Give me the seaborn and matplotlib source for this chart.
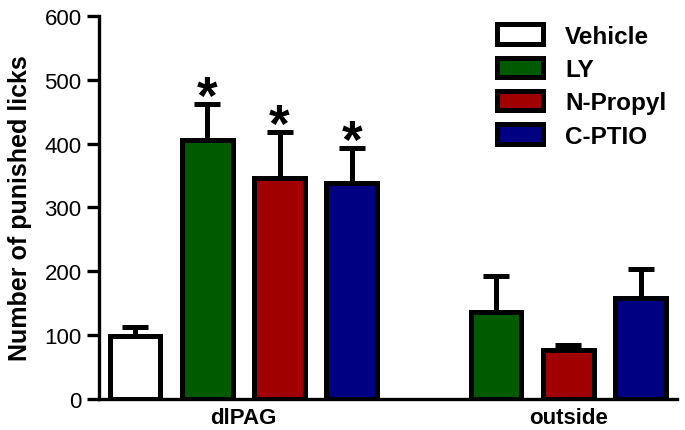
import pandas as pd
import numpy as np
import matplotlib
matplotlib.use('Agg')
import matplotlib.pyplot as plt
import seaborn as sns
from matplotlib.patches import Patch

# data
treatments = ['Vehicle', 'LY', 'N-Propyl', 'C-PTIO']
colors = ['#FFFFFF', '#005A00', '#A00000', '#000082']

dlpag_means = [99, 406, 346, 338]
dlpag_err = [14, 56, 72, 55]

outside_treat = ['LY', 'N-Propyl', 'C-PTIO']
outside_means = [136, 77, 158]
outside_err = [57, 8, 46]

group_labels = ['dlPAG', 'outside']
signif = ['LY', 'N-Propyl', 'C-PTIO']  # starred in dlPAG

# build table, one slot per bar, plus an empty slot between groups
rows = []
for t, m, e in zip(treatments, dlpag_means, dlpag_err):
    rows.append({'slot': 'dlPAG ' + t, 'group': 'dlPAG', 'treatment': t, 'value': m, 'err': e})
for t, m, e in zip(outside_treat, outside_means, outside_err):
    rows.append({'slot': 'outside ' + t, 'group': 'outside', 'treatment': t, 'value': m, 'err': e})
df = pd.DataFrame(rows)

order = ['dlPAG ' + t for t in treatments] + ['gap'] + ['outside ' + t for t in outside_treat]

sns.set_style('ticks')
plt.rcParams['font.family'] = ['Liberation Sans', 'DejaVu Sans']
plt.rcParams.update({'text.color': 'black', 'axes.labelcolor': 'black',
                     'xtick.color': 'black', 'ytick.color': 'black',
                     'axes.edgecolor': 'black'})

fig = plt.figure(figsize=(6.85, 4.31), dpi=100)
ax = fig.add_axes([0.1445, 0.072, 0.8435, 0.8886])

lw = 3.6
sns.barplot(data=df, x='slot', y='value', hue='treatment', order=order,
            hue_order=treatments, palette=dict(zip(treatments, colors)),
            saturation=1, dodge=False, width=0.7, edgecolor='black', linewidth=lw,
            errorbar=None, legend=False, ax=ax)

# upward error bars only
xs = np.array([order.index(s) for s in df['slot']])
ax.errorbar(xs, df['value'], yerr=[np.zeros(len(df)), df['err']],
            fmt='none', ecolor='black', elinewidth=lw, capsize=9.5,
            capthick=lw, zorder=1)

# asterisks
for t in signif:
    r = df[(df['group'] == 'dlPAG') & (df['treatment'] == t)].iloc[0]
    ax.text(order.index(r['slot']), r['value'] + r['err'] - 31, '*',
            ha='center', va='bottom', fontsize=38, fontweight='bold')

ax.set_ylim(0, 600)
ax.set_xlim(-0.5, len(order) - 0.5)
ax.set_yticks(range(0, 601, 100))
ax.tick_params(axis='y', labelsize=16, length=9, width=2.4, direction='out')
ax.tick_params(axis='x', length=0, labelsize=16, pad=6)

centers = [np.mean([order.index('dlPAG ' + t) for t in treatments]),
           np.mean([order.index('outside ' + t) for t in outside_treat])]
ax.set_xticks(centers)
ax.set_xticklabels(group_labels, fontweight='bold')
ax.set_xlabel('')
ax.set_ylabel('Number of punished licks', fontsize=18, fontweight='bold', labelpad=9)

sns.despine(ax=ax)
for sp in ['left', 'bottom']:
    ax.spines[sp].set_linewidth(2.4)

handles = [Patch(facecolor=c, edgecolor='black', linewidth=lw) for c in colors]
leg = ax.legend(handles, treatments, loc='upper right', frameon=False,
                bbox_to_anchor=(1.02, 1.035), handlelength=1.9, handleheight=0.85,
                labelspacing=0.42, handletextpad=0.9,
                prop={'weight': 'bold', 'size': 17.5})

fig.savefig('out.png', dpi=100)
